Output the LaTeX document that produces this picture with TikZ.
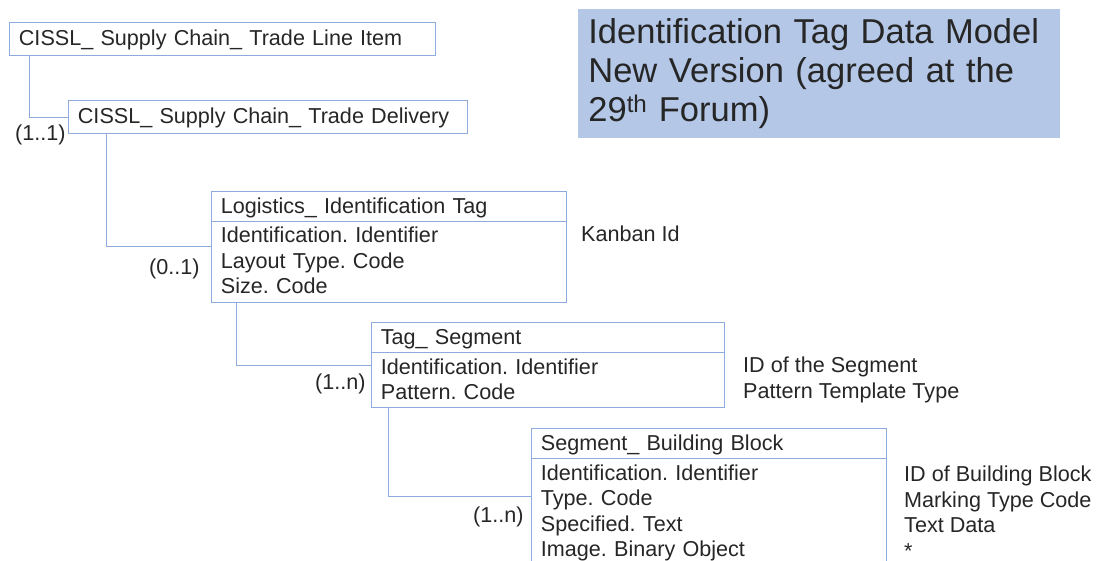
\documentclass[tikz,border=0pt]{standalone}
\usepackage{fontspec}
\setmainfont{Liberation Sans}
\usetikzlibrary{shapes.multipart,positioning}
\frenchspacing

\definecolor{umlblue}{HTML}{8FAADC}
\definecolor{titlefill}{HTML}{B4C7E7}
\definecolor{ink}{HTML}{262626}
\newcommand\rowstrut{\rule[-6pt]{0pt}{25.5pt}}

\tikzset{
  entity/.style = {draw = umlblue, anchor = north west, inner xsep = 9.5pt,
                   inner ysep = 4pt, text width = #1, align = left},
  umlclass/.style = {rectangle split, rectangle split parts = 2,
                   draw = umlblue, anchor = north west, inner xsep = 9.5pt,
                   inner ysep = 1.8pt, text width = #1, align = left},
  mult/.style = {inner sep = 0pt},
  remark/.style = {inner sep = 0pt, anchor = north west, align = left}
}

\begin{document}
\begin{tikzpicture}
        [x = 1pt, y = -1pt, line width = .8pt, text = ink,
         font = \fontsize{21.6}{25.5}\selectfont]

        \useasboundingbox (0,0) rectangle (1103,561);

        % title
        \node[fill = titlefill, anchor = north west, minimum width = 482pt,
              minimum height = 129pt, text width = 462pt, inner xsep = 10pt,
              align = left, font = \fontsize{34.5}{39}\selectfont] (title) at (578,9)
          {Identification Tag Data Model\\New Version (agreed at the\\29\textsuperscript{th} Forum)};

        % classes
        \node[entity = 407pt] (lineitem) at (9,22)
          {\rowstrut CISSL\_ Supply Chain\_ Trade Line Item};
        \node[entity = 380pt] (delivery) at (68,100)
          {\rowstrut CISSL\_ Supply Chain\_ Trade Delivery};
        \node[umlclass = 336pt] (tag) at (211,191)
          {\rowstrut Logistics\_ Identification Tag
           \nodepart{two}\rowstrut Identification. Identifier\\ \rowstrut Layout Type. Code\\ \rowstrut Size. Code};
        \node[umlclass = 334pt] (segment) at (371,322)
          {\rowstrut Tag\_ Segment
           \nodepart{two}\rowstrut Identification. Identifier\\ \rowstrut Pattern. Code};
        \node[umlclass = 336pt] (block) at (531,428)
          {\rowstrut Segment\_ Building Block
           \nodepart{two}\rowstrut Identification. Identifier\\ \rowstrut Type. Code\\
           \rowstrut Specified. Text\\ \rowstrut Image. Binary Object};

        % connectors
        \foreach \from/\to/\dx in {lineitem/delivery/20, delivery/tag/38,
                                   tag/segment/25, segment/block/17}
          \draw[umlblue] ([xshift = \dx pt]\from.south west) |- (\to.west);

        % multiplicities
        \node[mult, below left = 3.5pt and 2pt of delivery.west] (m1) {\rowstrut(1..1)};
        \node[mult, below left = 8pt and 11pt of tag.west] (m2) {\rowstrut(0..1)};
        \node[mult, below left = 4.5pt and 5pt of segment.west] (m3) {\rowstrut(1..n)};
        \node[mult, below left = 6pt and 7pt of block.west] (m4) {\rowstrut(1..n)};

        % remarks
        \node[remark] (kanban) at ([xshift = 14pt, yshift = -30.9pt]tag.north east)
          {\rowstrut Kanban Id};
        \node[remark] (segnote) at ([xshift = 18pt, yshift = -30.9pt]segment.north east)
          {\rowstrut ID of the Segment\\ \rowstrut Pattern Template Type};
        \node[remark] (blocknote) at ([xshift = 17pt, yshift = -34pt]block.north east)
          {\rowstrut ID of Building Block\\ \rowstrut Marking Type Code\\
           \rowstrut Text Data\\ \rowstrut *};
      \end{tikzpicture}
\end{document}
